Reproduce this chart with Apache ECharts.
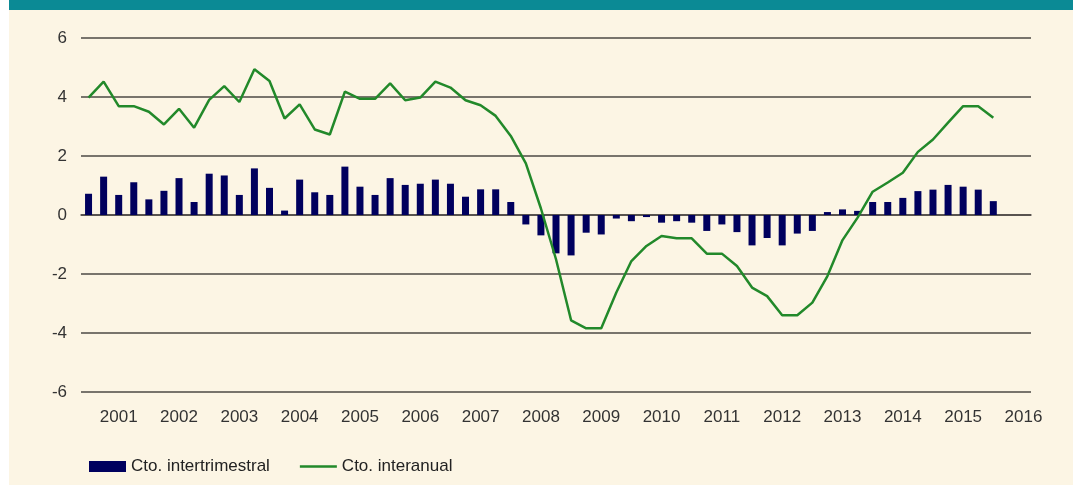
<!DOCTYPE html>
<html>
<head>
<meta charset="utf-8">
<script src="https://cdn.jsdelivr.net/npm/echarts@6/dist/echarts.min.js"></script>
<style>
  html, body { margin: 0; padding: 0; background: #ffffff; }
  #chart { width: 1073px; height: 485px; }
</style>
</head>
<body>
<div id="chart"></div>
<script>
// etiquetas del eje: un año cada cuatro trimestres
var years = ['2001','2002','2003','2004','2005','2006','2007','2008',
             '2009','2010','2011','2012','2013','2014','2015','2016'];
var quarters = ['T1','T2','T3','T4'];
var categories = [];
for (var y = 0; y < years.length; y++) {
    for (var q = 0; q < quarters.length; q++) {
        if (categories.length < 63) categories.push(years[y] + ' ' + quarters[q]);
    }
}

// Cto. intertrimestral (barras)
var intertrimestral = [
    0.72, 1.30, 0.68, 1.11, 0.53, 0.82, 1.25, 0.44, 1.40, 1.34, 0.68, 1.58, 0.92, 0.15, 1.20, 0.77,
    0.68, 1.64, 0.96, 0.68, 1.25, 1.02, 1.06, 1.20, 1.06, 0.62, 0.87, 0.87, 0.44, -0.32, -0.69, -1.30,
    -1.37, -0.60, -0.66, -0.12, -0.21, -0.07, -0.26, -0.21, -0.26, -0.54, -0.32, -0.58, -1.03, -0.78, -1.03, -0.63,
    -0.54, 0.10, 0.19, 0.14, 0.44, 0.44, 0.58, 0.81, 0.86, 1.02, 0.96, 0.86, 0.47
];

// Cto. interanual (línea)
var interanual = [
    3.98, 4.52, 3.69, 3.69, 3.50, 3.07, 3.60, 2.96, 3.90, 4.37, 3.83, 4.94, 4.54, 3.27, 3.75, 2.90,
    2.73, 4.18, 3.94, 3.94, 4.46, 3.89, 3.98, 4.52, 4.32, 3.89, 3.72, 3.36, 2.68, 1.75, 0.22, -1.50,
    -3.57, -3.84, -3.84, -2.63, -1.56, -1.05, -0.71, -0.79, -0.79, -1.31, -1.31, -1.73, -2.46, -2.75, -3.40, -3.40,
    -2.97, -2.07, -0.85, -0.09, 0.79, 1.10, 1.43, 2.14, 2.56, 3.13, 3.69, 3.69, 3.30
];

var textColor = '#333333';
var gridColor = '#4d4845';
var barColor = '#00005e';
var lineColor = '#22892a';

var chart = echarts.init(document.getElementById('chart'));
chart.setOption({
    backgroundColor: '#ffffff',
    animation: false,
    textStyle: { fontFamily: '"Liberation Sans", Arial, sans-serif' },
    graphic: [
        { type: 'rect', z: -10, shape: { x: 9, y: 0, width: 1064, height: 485 }, style: { fill: '#fcf5e4' } },
        { type: 'rect', z: -9, shape: { x: 9, y: 0, width: 1064, height: 10 }, style: { fill: '#0b8a95' } }
    ],
    grid: {
        left: 81,
        top: 38,
        width: 950,
        height: 354,
        containLabel: false,
        outerBoundsMode: 'none'
    },
    legend: {
        left: 84,
        top: 453,
        itemWidth: 37,
        itemHeight: 11,
        itemGap: 30,
        symbolKeepAspect: true,
        textStyle: { fontSize: 17, color: '#222222' },
        data: [
            { name: 'Cto. intertrimestral', icon: 'rect' },
            { name: 'Cto. interanual', icon: 'path://M0,0h100v7h-100z' }
        ]
    },
    xAxis: {
        type: 'category',
        data: categories,
        boundaryGap: true,
        axisLine: {
            onZero: true,
            lineStyle: { color: gridColor, width: 1.5 }
        },
        axisTick: {
            length: 4,
            interval: function (index) { return index % 4 === 0; },
            lineStyle: { color: gridColor }
        },
        axisLabel: {
            margin: 17,
            fontSize: 17,
            color: textColor,
            interval: function (index) { return index % 4 === 2; },
            formatter: function (value) { return value.slice(0, 4); }
        },
        splitLine: { show: false }
    },
    yAxis: {
        type: 'value',
        min: -6,
        max: 6,
        interval: 2,
        axisLine: { show: false },
        axisTick: { show: false },
        axisLabel: { margin: 14, fontSize: 17, color: textColor },
        splitLine: { lineStyle: { color: gridColor, width: 1.5 } }
    },
    series: [
        {
            name: 'Cto. intertrimestral',
            type: 'bar',
            data: intertrimestral,
            barWidth: 7,
            itemStyle: { color: barColor }
        },
        {
            name: 'Cto. interanual',
            type: 'line',
            data: interanual,
            symbol: 'none',
            z: 3,
            lineStyle: { color: lineColor, width: 2.5 },
            itemStyle: { color: lineColor }
        }
    ]
});
</script>
</body>
</html>
